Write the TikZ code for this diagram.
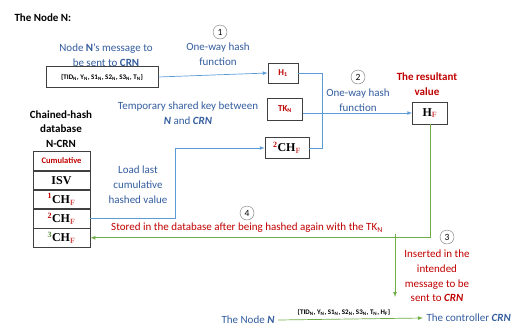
\documentclass[tikz,border=0pt]{standalone}
\usepackage{fontspec}
\setmainfont{Carlito}
\newfontfamily\tnr{Liberation Serif}
\usepackage{tikz}
\usetikzlibrary{arrows, positioning}
\usepackage{xcolor}

\definecolor{txtblue}{RGB}{50,92,158}
\definecolor{txtred}{RGB}{192,0,0}
\definecolor{lineblue}{RGB}{91,155,213}
\definecolor{linegreen}{RGB}{112,173,71}

\newcommand{\lo}[1]{\textsubscript{#1}}
\newcommand{\chf}[2]{{\fontsize{12}{12}\tnr\bfseries\textsuperscript{\color{#1}#2}CH\textsubscript{\color{txtred!70}F}}}

\begin{document}
\begin{tikzpicture}[x=1pt,y=-1pt,>=latex,
  font=\fontsize{11}{14.8}\selectfont]
  \tikzstyle{box}=[draw=black!75, fill=white, line width=0.7pt, inner sep=1pt]
  \tikzstyle{cell}=[box, minimum width=57pt, minimum height=18.5pt]
  \tikzstyle{stepno}=[draw=black!55, circle, inner sep=0pt, minimum size=14pt, font=\fontsize{9.5}{9.5}\selectfont]
  \tikzstyle{bluetext}=[text=txtblue, align=center]
  \tikzstyle{redtext}=[text=txtred, align=center]
  \tikzstyle{bline}=[draw=lineblue, line width=0.7pt]
  \tikzstyle{gline}=[draw=linegreen, line width=0.7pt]
  \useasboundingbox (0,0) rectangle (513,327);

  \node[anchor=west, font=\fontsize{11}{12}\selectfont\bfseries] (title) at (11,18) {The Node N:};

  % first hash
  \node[bluetext]           (msglbl) at (106,55)  {Node \textbf{N}'s message to\\be sent to \textbf{CRN}};
  \node[box, minimum width=112pt, minimum height=21pt, font=\fontsize{7}{8}\selectfont\bfseries]
                            (msg)    at (102,77)  {\{TID\lo{N}, Y\lo{N}, S1\lo{N}, S2\lo{N}, S3\lo{N}, T\lo{N}\}};
  \node[stepno]             (c1)     at (220,32)  {1};
  \node[bluetext]           (hash1)  at (218,54)  {One-way hash\\function};
  \node[box, minimum width=30pt, minimum height=20pt, text=txtred, font=\fontsize{9}{10}\selectfont\bfseries]
                            (h1)     at (283,73)  {H\lo{1}};
  \node[bluetext]           (keylbl) at (188,113) {Temporary shared key between\\\textbf{\textit{N}} and \textbf{\textit{CRN}}};
  \node[box, minimum width=35pt, minimum height=22pt, text=txtred, font=\fontsize{9}{10}\selectfont\bfseries]
                            (tk)     at (285,109) {TK\lo{N}};
  \node[box, minimum width=44pt, minimum height=21pt] (ch2) at (287,148) {\chf{txtred}{2}};

  % second hash
  \node[stepno]             (c2)     at (358,77)  {2};
  \node[bluetext]           (hash2)  at (358,100) {One-way hash\\function};
  \node[redtext, font=\fontsize{11}{14.8}\selectfont\bfseries]
                            (result) at (427,84)  {The resultant\\value};
  \node[box, minimum width=35pt, minimum height=22pt] (hf) at (430,113) {{\fontsize{12}{12}\tnr\bfseries H\textsubscript{\color{txtred!70}F}}};

  % database
  \node[align=center, font=\fontsize{11}{14.8}\selectfont\bfseries] (dbtitle) at (61,129) {Chained-hash\\database\\N-CRN};
  \node[cell, text=txtred, font=\fontsize{8.5}{9}\selectfont\bfseries] (r1) at (61.5,161) {Cumulative};
  \node[cell, below=0pt of r1] (r2) {{\fontsize{12}{12}\tnr\bfseries ISV}};
  \node[cell, below=0pt of r2] (r3) {\chf{txtred}{1}};
  \node[cell, below=0pt of r3] (r4) {\chf{txtred}{2}};
  \node[cell, below=0pt of r4] (r5) {\chf{linegreen!80!black}{3}};
  \node[bluetext]           (loadlbl) at (138,185) {Load last\\cumulative\\hashed value};

  % storing and sending
  \node[stepno]             (c4)     at (247,213) {4};
  \node[redtext]            (stored) at (247,228) {Stored in the database after being hashed again with the TK\lo{N}};
  \node[stepno]             (c3)     at (447,237) {3};
  \node[redtext]            (insert) at (437,276) {Inserted in the\\intended\\message to be\\sent to \textbf{\textit{CRN}}};
  \node[bluetext]           (noden)  at (248,320) {The Node \textbf{\textit{N}}};
  \node[bluetext, anchor=west] (ctrl) at (423,318) {The controller \textbf{\textit{CRN}}};
  \node[font=\fontsize{7}{8}\selectfont\bfseries] (final) at (344,312) {\{TID\lo{N}, Y\lo{N}, S1\lo{N}, S2\lo{N}, S3\lo{N}, T\lo{N}, H\lo{F}\}};

  \coordinate (j)   at (322,113);
  \coordinate (k)   at (175,148);
  \coordinate (b)   at (395,234);
  \coordinate (ins) at (395,297);

  \draw[bline,->] (msg.east) -- (h1.west);
  \draw[bline]    (h1.east) -| (j);
  \draw[bline]    (ch2.east) -| (j);
  \draw[bline,->] (tk.east |- hf.west) -- (hf.west);
  \draw[bline,->] (r4.east) -| (k) -- (ch2.west);
  \draw[gline,->] (hf.south) |- (r5.east);
  \draw[gline,->] (b) -- (ins);
  \draw[gline,->] (noden.east) -- (ctrl.west);
\end{tikzpicture}
\end{document}
